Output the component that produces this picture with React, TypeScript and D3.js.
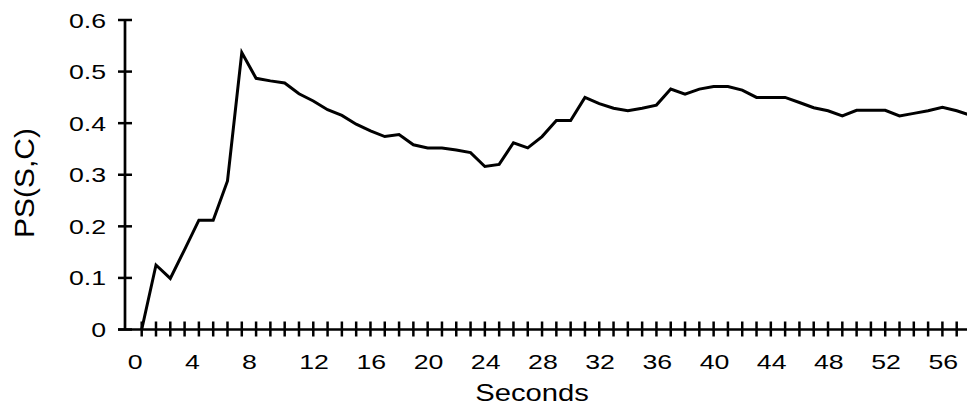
import React from 'react';
import * as d3 from 'd3';

// Category index (seconds) for each sample
const secondsIdx = [
  0, 1, 2, 3, 4, 5, 6, 7, 8, 9, 10, 11, 12, 13, 14, 15, 16, 17, 18, 19,
  20, 21, 22, 23, 24, 25, 26, 27, 28, 29, 30, 31, 32, 33, 34, 35, 36, 37, 38, 39,
  40, 41, 42, 43, 44, 45, 46, 47, 48, 49, 50, 51, 52, 53, 54, 55, 56, 57, 58,
];
const psValues = [
  0.0, 0.125, 0.099, 0.155, 0.212, 0.212, 0.288, 0.537, 0.487, 0.482,
  0.478, 0.457, 0.443, 0.426, 0.415, 0.398, 0.385, 0.374, 0.378, 0.358,
  0.352, 0.352, 0.348, 0.343, 0.316, 0.32, 0.362, 0.352, 0.374, 0.405,
  0.405, 0.45, 0.438, 0.429, 0.424, 0.429, 0.435, 0.466, 0.456, 0.466,
  0.471, 0.471, 0.464, 0.45, 0.45, 0.45, 0.44, 0.43, 0.424, 0.414,
  0.425, 0.425, 0.425, 0.414, 0.419, 0.424, 0.431, 0.424, 0.415,
];
const xTickLabels = ['0', '4', '8', '12', '16', '20', '24', '28', '32', '36', '40', '44', '48', '52', '56'];
const xTickLabelIdx = [0, 4, 8, 12, 16, 20, 24, 28, 32, 36, 40, 44, 48, 52, 56];
const yTicks = [0, 0.1, 0.2, 0.3, 0.4, 0.5, 0.6];
const yTickLabels = ['0', '0.1', '0.2', '0.3', '0.4', '0.5', '0.6'];

const W = 967;
const H = 406;
const FONT = '"Liberation Sans", Arial, Helvetica, sans-serif';
const FS = 21;
const SX = 1.27;

export default function App() {
  const x = d3.scaleLinear().domain([0, 57]).range([141.7, 956.7]);
  const y = d3.scaleLinear().domain([0, 0.6]).range([329.5, 20]);
  const axisX0 = 125;
  const axisY0 = y(0);

  const line = d3
    .line<number>()
    .x((_, i) => x(secondsIdx[i]))
    .y((d) => y(d));

  return (
    <svg
      width={W}
      height={H}
      style={{ position: 'absolute', left: 0, top: 0, background: '#fff' }}
      fontFamily={FONT}
    >
      <rect x={0} y={0} width={W} height={H} fill="#fff" />
      {/* y axis */}
      <line x1={axisX0} x2={axisX0} y1={y(0.6) - 1} y2={axisY0} stroke="#000" strokeWidth={2.7} />
      {yTicks.map((t, i) => (
        <g key={'yt' + i}>
          <line x1={axisX0 - 7} x2={axisX0 + 7} y1={y(t)} y2={y(t)} stroke="#000" strokeWidth={2.5} />
          <text
            transform={`translate(106,${y(t) + 7.5}) scale(${SX},1)`}
            textAnchor="end"
            fontSize={FS}
            fill="#000"
          >
            {yTickLabels[i]}
          </text>
        </g>
      ))}
      {/* x axis */}
      <line x1={axisX0 - 7} x2={W + 5} y1={axisY0} y2={axisY0} stroke="#000" strokeWidth={2.7} />
      {secondsIdx.map((s) => (
        <line
          key={'xt' + s}
          x1={x(s)}
          x2={x(s)}
          y1={axisY0 - 8}
          y2={axisY0 + 7}
          stroke="#000"
          strokeWidth={2.5}
        />
      ))}
      {xTickLabelIdx.map((s, i) => (
        <text
          key={'xl' + i}
          transform={`translate(${x(s) - 14},368.5) scale(${SX},1)`}
          textAnchor="start"
          fontSize={FS}
          fill="#000"
        >
          {xTickLabels[i]}
        </text>
      ))}
      {/* data line */}
      <path d={line(psValues) || ''} fill="none" stroke="#000" strokeWidth={3} strokeLinejoin="miter" />
      {/* axis titles */}
      <text
        transform={`translate(532,401) scale(${SX},1)`}
        textAnchor="middle"
        fontSize={23}
        fill="#000"
      >
        Seconds
      </text>
      <text
        transform={`translate(34,183) scale(0.9,1) rotate(-90)`}
        textAnchor="middle"
        fontSize={30}
        fill="#000"
      >
        PS(S,C)
      </text>
    </svg>
  );
}
